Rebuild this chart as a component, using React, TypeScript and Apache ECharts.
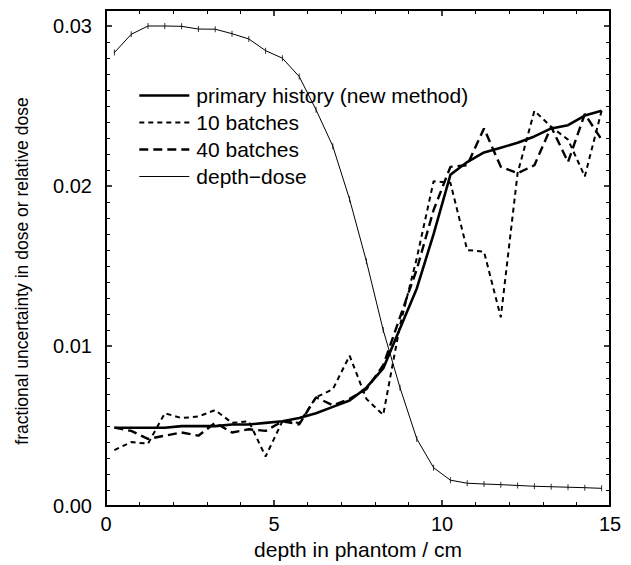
import React, { useEffect, useRef } from "react";
import * as echarts from "echarts";

const depth = [0.25, 0.75, 1.25, 1.75, 2.25, 2.75, 3.25, 3.75, 4.25, 4.75, 5.25, 5.75, 6.25, 6.75, 7.25, 7.75, 8.25, 8.75, 9.25, 9.75, 10.25, 10.75, 11.25, 11.75, 12.25, 12.75, 13.25, 13.75, 14.25, 14.75];

const primaryHistory = [0.0049, 0.0049, 0.0049, 0.0049, 0.0050, 0.0050, 0.0050, 0.0051, 0.0051, 0.0052, 0.0053, 0.0055, 0.0058, 0.0062, 0.0066, 0.0074, 0.0086, 0.0111, 0.0136, 0.0170, 0.0207, 0.0215, 0.0221, 0.0224, 0.0227, 0.0231, 0.0236, 0.0238, 0.0244, 0.0247];

const batches10 = [0.0035, 0.0040, 0.0039, 0.0058, 0.0055, 0.0056, 0.0060, 0.0052, 0.0053, 0.0031, 0.0053, 0.0052, 0.0068, 0.0073, 0.0094, 0.0067, 0.0057, 0.0113, 0.0155, 0.0203, 0.0202, 0.0160, 0.0159, 0.0118, 0.0208, 0.0247, 0.0237, 0.0229, 0.0206, 0.0247];

const batches40 = [0.0049, 0.0047, 0.0042, 0.0044, 0.0046, 0.0044, 0.0052, 0.0046, 0.0048, 0.0047, 0.0053, 0.0051, 0.0068, 0.0063, 0.0067, 0.0073, 0.0088, 0.0118, 0.0148, 0.0185, 0.0212, 0.0213, 0.0236, 0.0212, 0.0208, 0.0213, 0.0237, 0.0215, 0.0245, 0.0229];

const depthDose = [0.02834, 0.02948, 0.0300, 0.0300, 0.02998, 0.02981, 0.0298, 0.02952, 0.02919, 0.02846, 0.02799, 0.02684, 0.02477, 0.02249, 0.01917, 0.0153, 0.0110, 0.0074, 0.0042, 0.0024, 0.00162, 0.00143, 0.00138, 0.00134, 0.00129, 0.00124, 0.00121, 0.00118, 0.00115, 0.00111];

const seriesNames = ["primary history (new method)", "10 batches", "40 batches", "depth\u2212dose"];

const yAxisTitle = "fractional uncertainty in dose or relative dose";
const xAxisTitle = "depth in phantom / cm";

const pairs = (ys: number[]) => depth.map((x, i) => [x, ys[i]]);

const FONT = "'Liberation Sans', Arial, Helvetica, sans-serif";

const lineStyles = [
  { color: "#000", width: 2.6, type: "solid" },
  { color: "#000", width: 2, type: [5, 4] },
  { color: "#000", width: 2.4, type: [9, 5] },
  { color: "#000", width: 1, type: "solid" },
];

export default function App() {
  const ref = useRef<HTMLDivElement>(null);
  useEffect(() => {
    if (!ref.current) return;
    const chart = echarts.init(ref.current, undefined, { renderer: "svg" });
    const axisLine = { show: true, onZero: false, lineStyle: { color: "#000", width: 2 } };
    const xCommon = {
      type: "value" as const,
      min: 0,
      max: 15,
      interval: 5,
      axisLine,
      axisTick: { show: true, inside: true, length: 6, lineStyle: { color: "#000", width: 1.5 } },
      minorTick: { show: true, splitNumber: 5, length: 4, lineStyle: { color: "#000", width: 1 } },
      splitLine: { show: false },
    };
    const yCommon = {
      type: "value" as const,
      min: 0,
      max: 0.031,
      interval: 0.01,
      axisLine,
      axisTick: { show: true, inside: true, length: 6, lineStyle: { color: "#000", width: 1.5 } },
      minorTick: { show: true, splitNumber: 10, length: 4, lineStyle: { color: "#000", width: 1 } },
      splitLine: { show: false },
    };
    chart.setOption({
      animation: false,
      backgroundColor: "#fff",
      textStyle: { fontFamily: FONT },
      grid: { left: 106, right: 21, top: 10, bottom: 57, containLabel: false },
      graphic: [
        {
          type: "text",
          x: 22,
          y: 271,
          rotation: Math.PI / 2,
          style: {
            text: yAxisTitle,
            fill: "#000",
            fontFamily: FONT,
            fontSize: 17.5,
            align: "center",
            verticalAlign: "middle",
          },
        },
      ],
      legend: {
        show: true,
        orient: "vertical",
        left: 133,
        top: 80,
        itemWidth: 50,
        itemHeight: 20,
        itemGap: 6,
        itemStyle: { opacity: 0 },
        data: seriesNames.map((n, i) => ({ name: n, lineStyle: lineStyles[i] })),
        textStyle: { fontFamily: FONT, fontSize: 21, color: "#000", lineHeight: 20, padding: [0, 0, 0, 2] },
      },
      xAxis: [
        {
          ...xCommon,
          position: "bottom",
          name: xAxisTitle,
          nameLocation: "middle",
          nameGap: 30,
          nameTextStyle: { fontFamily: FONT, fontSize: 21, color: "#000" },
          axisLabel: { show: true, color: "#000", fontSize: 20, fontFamily: FONT, margin: 8 },
        },
        {
          ...xCommon,
          position: "top",
          axisLabel: { show: false },
        },
      ],
      yAxis: [
        {
          ...yCommon,
          position: "left",
          axisLabel: {
            show: true,
            color: "#000",
            fontSize: 20,
            fontFamily: FONT,
            margin: 14,
            showMaxLabel: false,
            formatter: (v: number) => v.toFixed(2),
          },
        },
        {
          ...yCommon,
          position: "right",
          axisLabel: { show: false },
        },
      ],
      series: [
        {
          name: seriesNames[0],
          type: "line",
          data: pairs(primaryHistory),
          symbol: "none",
          lineStyle: lineStyles[0],
          itemStyle: { color: "#000" },
          z: 5,
        },
        {
          name: seriesNames[1],
          type: "line",
          data: pairs(batches10),
          symbol: "none",
          lineStyle: lineStyles[1],
          itemStyle: { color: "#000" },
          z: 4,
        },
        {
          name: seriesNames[2],
          type: "line",
          data: pairs(batches40),
          symbol: "none",
          lineStyle: lineStyles[2],
          itemStyle: { color: "#000" },
          z: 4,
        },
        {
          name: seriesNames[3],
          type: "line",
          data: pairs(depthDose),
          symbol: "none",
          lineStyle: lineStyles[3],
          itemStyle: { color: "#000" },
          z: 3,
        },
        {
          name: "depth-dose markers",
          type: "scatter",
          data: pairs(depthDose),
          symbol: "rect",
          symbolSize: [1, 6],
          itemStyle: { color: "#000" },
          z: 3,
        },
      ],
    });
    return () => chart.dispose();
  }, []);
  return <div ref={ref} style={{ width: 631, height: 565, position: "absolute", left: 0, top: 0 }} />;
}
